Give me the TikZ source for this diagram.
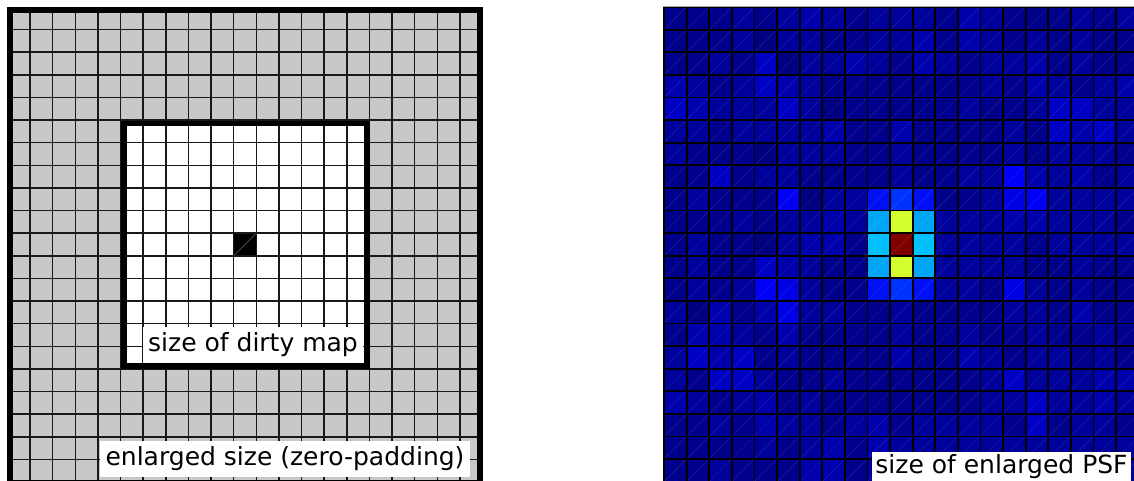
\documentclass[tikz,border=0pt]{standalone}
\usepackage{fontspec}
\setmainfont{DejaVu Sans}
\definecolor{c0}{RGB}{0,0,128}
\definecolor{c1}{RGB}{0,0,140}
\definecolor{c2}{RGB}{0,0,155}
\definecolor{c3}{RGB}{0,0,172}
\definecolor{c4}{RGB}{0,0,196}
\definecolor{c5}{RGB}{0,0,228}
\definecolor{c6}{RGB}{0,0,248}
\definecolor{ca}{RGB}{0,16,245}
\definecolor{cb}{RGB}{0,50,255}
\definecolor{cp}{RGB}{0,166,245}
\definecolor{cq}{RGB}{0,192,255}
\definecolor{cy}{RGB}{212,255,46}
\definecolor{cr}{RGB}{128,0,0}
\definecolor{padgray}{RGB}{200,200,200}
\begin{document}
\begin{tikzpicture}[x=1pt,y=-1pt,
  lbl/.style={fill=white, inner xsep=5pt, inner ysep=5.5pt, text height=19pt, text depth=6pt, font=\fontsize{25}{30}\selectfont, anchor=base},
  thingrid/.style={draw=black!90, line width=1.5pt},
  psfgrid/.style={draw=black, line width=1.8pt},
  diag/.style={draw=white, opacity=0.1, line width=0.6pt},
  thickframe/.style={draw=black, line width=6pt},
  innerframe/.style={draw=black, line width=5.5pt}]
\clip (0,0) rectangle (1134,480);
\fill[white] (0,0) rectangle (1134,480);
% ---------- left: zero-padded grid ----------
\fill[padgray] (10,10) rectangle (480,480);
\fill[white] (124,123.5) rectangle (367,366);
\fill[black] (233.7,233.2) rectangle (256.3,255.8);
\draw[draw=black!60, line width=0.5pt] (233.7,255.8) -- (256.3,233.2);
\foreach \k in {1,...,20} {
  \draw[thingrid] ({7.5+22.62*\k},10) -- ({7.5+22.62*\k},480);
  \draw[thingrid] (10,{7+22.62*\k}) -- (480,{7+22.62*\k});
}
\draw[innerframe] (124,123.5) rectangle (367,366);
\draw[thickframe] (10,10) rectangle (480,483);
\node[lbl] (dirty) at (253,351.7) {size of dirty map};
\node[lbl, inner xsep=6pt] (enl) at (285,465) {enlarged size (zero-padding)};
% ---------- right: enlarged PSF ----------
\foreach \row [count=\r from 0] in {
 {1,1,1,2,1,2,3,2,1,2,2,2,1,3,2,1,1,1,2,1,2},
 {1,1,1,2,0,2,2,1,1,2,2,3,1,3,2,1,2,1,2,1,1},
 {1,1,2,1,4,0,2,2,3,2,1,3,2,1,2,2,3,1,2,1,1},
 {3,2,1,2,4,3,2,1,1,1,1,1,1,1,2,1,3,2,1,2,3},
 {4,3,2,2,2,4,2,0,1,1,1,1,1,2,1,1,2,4,4,2,2},
 {2,2,1,2,2,2,2,3,1,1,3,1,1,1,1,2,1,4,3,4,2},
 {2,1,1,1,0,2,2,2,1,1,2,1,1,1,1,2,1,2,2,2,1},
 {1,1,4,1,2,2,1,1,1,1,2,1,1,2,2,6,3,2,3,1,2},
 {1,2,1,1,1,6,0,2,2,a,b,a,1,1,2,5,6,2,2,2,2},
 {1,1,1,2,1,2,2,3,2,p,y,p,2,2,2,3,3,2,2,2,1},
 {1,2,1,1,0,2,3,3,1,q,r,q,2,2,2,2,1,2,2,2,2},
 {1,2,1,1,4,3,2,1,1,p,y,p,2,2,2,2,1,1,2,1,1},
 {1,2,1,2,6,5,2,1,1,a,b,a,2,2,1,5,2,1,2,1,1},
 {2,0,3,1,3,5,2,2,1,1,2,1,1,1,1,2,2,1,3,1,1},
 {1,3,3,2,1,3,1,1,1,1,2,1,1,2,1,1,2,1,1,2,1},
 {2,4,3,4,1,2,1,1,1,1,3,1,1,3,2,1,2,2,1,2,1},
 {2,1,4,4,2,1,1,2,1,1,1,1,1,1,2,4,2,2,2,3,3},
 {3,2,1,2,3,1,2,1,1,1,1,1,1,1,2,2,4,2,2,3,2},
 {1,1,2,1,3,2,2,1,2,3,1,2,2,2,2,1,4,1,2,2,1},
 {1,1,1,1,2,1,2,3,1,3,2,2,2,2,2,2,2,2,2,2,2},
 {1,1,2,1,1,1,3,3,1,2,2,2,2,2,2,2,2,2,2,2,2}} {
  \foreach \v [count=\c from 0] in \row {
    \fill[c\v] ({664+22.6*\c},{7+22.6*\r}) rectangle +(22.6,22.6);
    \draw[diag] ({664+22.6*\c},{7+22.6*(\r+1)}) -- +(22.6,-22.6);
  }
}
\foreach \k in {0,...,20} {
  \draw[psfgrid] ({664+22.6*\k},7) -- ({664+22.6*\k},482);
  \draw[psfgrid] (664,{7+22.6*\k}) -- (1134,{7+22.6*\k});
}
\draw[draw=black!35, line width=1pt] (663,6) -- (1134,6);
\node[lbl, inner xsep=3pt, inner ysep=3pt] (psf) at (1001.5,473.5) {size of enlarged PSF};
\end{tikzpicture}
\end{document}
